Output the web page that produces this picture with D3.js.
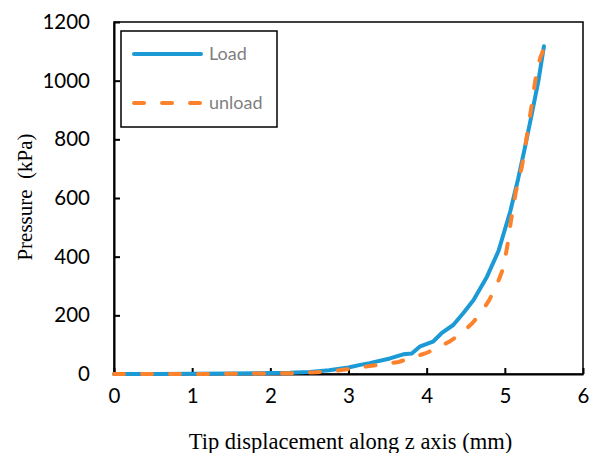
<!DOCTYPE html>
<html><head><meta charset="utf-8">
<script src="https://cdn.jsdelivr.net/npm/d3@7"></script>
<style>body{margin:0;background:#fff}</style>
</head><body>
<svg id="c" width="592" height="453"></svg>
<script>
const loadX = [0, 0.5, 1.0, 1.5, 2.0, 2.25, 2.5, 2.75, 3.0, 3.15, 3.27, 3.53, 3.70, 3.81, 3.91, 4.08, 4.19, 4.34, 4.47, 4.60, 4.77, 4.92, 5.07, 5.17, 5.25, 5.34, 5.43, 5.50];
const loadY = [0, 0, 1, 2, 3, 4, 7, 13, 22, 31, 37, 53, 67, 70, 93, 110, 139, 167, 208, 252, 331, 420, 555, 665, 763, 880, 1000, 1117];
const unloadX = [0, 0.5, 1.0, 1.5, 2.0, 2.3, 2.59, 2.8, 2.98, 3.27, 3.64, 3.98, 4.15, 4.30, 4.45, 4.58, 4.70, 4.80, 4.90, 4.98, 5.03, 5.08, 5.14, 5.22, 5.28, 5.34, 5.39, 5.45, 5.50];
const unloadY = [0, 0, 0, 1, 2, 3, 6, 10, 16, 27, 41, 70, 90, 112, 140, 172, 210, 252, 305, 361, 433, 525, 620, 709, 808, 911, 1002, 1076, 1110];
const xTicks = [0, 1, 2, 3, 4, 5, 6];
const yTicks = [0, 200, 400, 600, 800, 1000, 1200];
const seriesNames = ["Load", "unload"];
const xTitle = "Tip displacement along z axis (mm)";
const yTitle = "Pressure  (kPa)";

const svg = d3.select("#c");
const L = 114, T = 22, R = 583, B = 374;
const x = d3.scaleLinear().domain([0, 6]).range([L, R]);
const y = d3.scaleLinear().domain([0, 1200]).range([B, T]);
const blue = "#1b9ad6", orange = "#fd822b";

// frame
svg.append("rect").attr("x", L).attr("y", T).attr("width", R - L).attr("height", B - T)
  .attr("fill", "none").attr("stroke", "#000").attr("stroke-width", 1.5);

// axes
const xAxis = d3.axisBottom(x).tickValues(xTicks).tickSizeInner(-6).tickSizeOuter(0).tickPadding(14).tickFormat(d3.format("d"));
const gx = svg.append("g").attr("transform", `translate(0,${B})`).call(xAxis);
const yAxis = d3.axisLeft(y).tickValues(yTicks).tickSizeInner(-6).tickSizeOuter(0).tickPadding(24).tickFormat(d3.format("d"));
const gy = svg.append("g").attr("transform", `translate(${L},0)`).call(yAxis);
[gx, gy].forEach(g => {
  g.select(".domain").attr("stroke", "#000").attr("stroke-width", 2);
  g.selectAll(".tick line").attr("stroke", "#000").attr("stroke-width", 2);
  g.selectAll(".tick text").attr("font-family", "Lato, 'Open Sans', sans-serif").attr("font-size", 20.5).attr("fill", "#000");
});
gx.selectAll(".tick text").attr("dy", "0.71em");

// lines
const line = d3.line().x(d => x(d[0])).y(d => y(d[1]));
const loadData = loadX.map((v, i) => [v, loadY[i]]);
const unloadData = unloadX.map((v, i) => [v, unloadY[i]]);
svg.append("path").datum(loadData).attr("d", line).attr("fill", "none")
  .attr("stroke", blue).attr("stroke-width", 4).attr("stroke-linejoin", "round").attr("stroke-linecap", "round");
svg.append("path").datum(unloadData).attr("d", line).attr("fill", "none")
  .attr("stroke", orange).attr("stroke-width", 4).attr("stroke-linejoin", "round").attr("stroke-linecap", "round")
  .attr("stroke-dasharray", "10 18");

// legend
const lg = svg.append("g");
lg.append("rect").attr("x", 121).attr("y", 31).attr("width", 156).attr("height", 96)
  .attr("fill", "#fff").attr("stroke", "#000").attr("stroke-width", 1.5);
const legendRows = [{name: seriesNames[0], color: blue, dash: null, yy: 54},
                    {name: seriesNames[1], color: orange, dash: "10 18", yy: 103}];
legendRows.forEach(r => {
  lg.append("line").attr("x1", 134).attr("x2", 201).attr("y1", r.yy).attr("y2", r.yy)
    .attr("stroke", r.color).attr("stroke-width", 4).attr("stroke-linecap", "round")
    .attr("stroke-dasharray", r.dash);
  lg.append("text").attr("x", 209).attr("y", r.yy).attr("dy", "0.35em")
    .attr("font-family", "Lato, 'Open Sans', sans-serif").attr("font-size", 18).attr("fill", "#7f7f7f")
    .text(r.name);
});

// titles
svg.append("text").attr("x", (188 + 513) / 2).attr("y", 449).attr("text-anchor", "middle")
  .attr("font-family", "'Liberation Serif', serif").attr("font-size", 22.5).attr("fill", "#000").text(xTitle);
svg.append("text").attr("transform", "translate(32,197) rotate(-90)").attr("text-anchor", "middle")
  .attr("font-family", "'Liberation Serif', serif").attr("font-size", 21).attr("fill", "#000")
  .attr("xml:space", "preserve").style("white-space", "pre").text(yTitle);
</script>
</body></html>
